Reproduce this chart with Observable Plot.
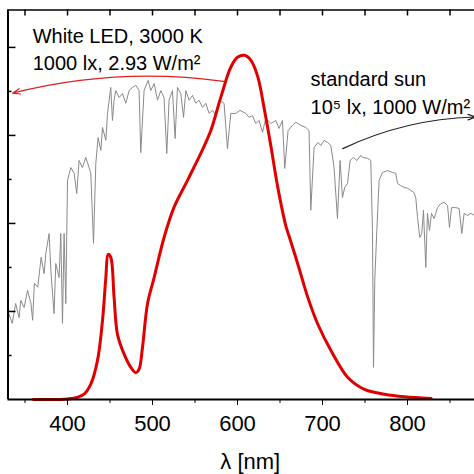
<!DOCTYPE html>
<html><head><meta charset="utf-8">
<script src="https://cdn.jsdelivr.net/npm/d3@7"></script>
<script src="https://cdn.jsdelivr.net/npm/@observablehq/plot@0.6"></script>
<style>html,body{margin:0;padding:0;background:#fff;overflow:hidden}</style>
</head><body><div id="chart"></div>
<script>
// standard sun spectrum (arbitrary units, one unit per minor y tick)
const sunLambda = [331,335,339,343,345,349,353,357,359,361,365,369,372.5,374.5,378.4,380.4,384.2,386.2,390.1,392.1,394.1,396,398,
  400,403.9,407.8,410.9,413.6,417.6,421.5,425.4,427.4,430.6,433.3,436,439.2,441.2,445.1,447.1,450.9,452.9,454.8,456.8,460.7,464.7,468.6,472.5,476.5,480.4,484.2,486.2,490.1,494.8,498,
  501.9,505.9,509.8,513.6,516.8,519.5,523.5,526.6,529.4,533.3,536.5,539.2,543.1,547.1,550.9,554.8,558.8,562.7,566.6,570.6,574.5,578.4,584.2,588.2,592.1,598,602.9,609.8,613.6,617.6,621.5,625.4,629.4,633.3,639.2,645.1,648.9,652.9,655.6,659.5,664.7,668.6,674.5,680.4,684.2,686.2,690.1,694.8,698,
  701.9,705.9,709.8,713.6,717.6,720.7,723.5,726.2,729.4,732.5,736.5,740.4,745.1,747.1,752.9,756.8,758.8,760,761.5,763.9,766.6,770.6,776.5,782.4,786.2,788.2,792.1,796,
  800,803.9,807.8,809.8,811.8,814.5,816.8,818.8,821.5,823.5,825.9,828.2,831.3,835.3,839.2,843.1,847.1,849.4,851.8,856.8,860.7,863.9,866.6,870.6,874.5,879.2,886,893,900];
const sunValue = [1.95,1.73,2.18,1.86,2.25,2.09,2.48,2.18,1.80,2.64,2.55,3.23,2.86,3.32,3.77,2.93,1.95,3.09,2.77,3.77,1.73,3.77,2.18,
  4.98,5.27,5.14,4.68,5.43,5.27,5.50,5.27,5.14,3.55,5.36,5.95,5.66,6.18,5.89,6.50,7.09,6.34,6.80,7.02,6.86,6.95,6.73,7.02,7.09,7.14,7.02,5.61,7.02,7.25,7.02,
  7.18,6.80,7.02,6.86,5.59,6.80,7.02,5.93,7.09,6.95,6.41,7.02,6.80,6.91,6.73,6.80,6.64,6.73,6.50,6.57,6.45,6.80,6.73,5.70,6.50,6.50,6.57,6.50,6.41,6.45,6.27,6.34,6.07,6.39,6.27,6.34,6.16,6.34,5.25,6.11,6.23,6.30,6.23,6.18,6.11,4.30,5.73,5.84,5.77,
  5.89,5.84,5.77,5.27,4.11,5.43,4.59,4.82,4.91,5.43,5.50,5.43,5.55,5.50,5.48,5.43,3.84,0.73,2.70,3.84,4.98,5.16,5.20,5.16,5.14,4.91,4.86,4.82,
  4.80,4.75,4.70,4.57,4.14,3.68,3.77,4.30,3.00,4.23,3.84,4.23,4.11,4.36,4.45,4.48,4.41,3.91,4.36,4.36,4.34,3.77,4.23,4.18,4.23,4.18,4.20,4.05,4.15];

// white LED 3000 K spectrum (same arbitrary units)
const ledLambda = [360,390,400,411.8,419.5,427.4,435.3,441.2,445.1,447.8,450.9,454.8,458.8,466.6,474.5,480.4,484.2,488.2,494.1,501.9,513.6,525.4,541.2,556.8,568.6,580.4,592.1,600.4,608.2,616,623.9,631.8,639.5,647.4,657.2,661.2,670.9,682.7,694.5,710.1,729.8,749.4,772.9,796.5,827.8];
const ledValue  = [0,0,0.01,0.05,0.12,0.35,0.89,1.80,2.77,3.30,3.23,2.32,1.48,1.03,0.73,0.61,0.69,1.18,2.17,2.77,3.68,4.37,4.98,5.59,6.11,6.87,7.55,7.78,7.82,7.70,7.33,6.57,5.73,4.82,3.92,3.68,3.08,2.32,1.71,1.11,0.50,0.23,0.12,0.06,0.02];

const majorXTicks = [400,500,600,700,800,900];
const minorXTicks = [350,450,550,650,750,850];
const topXTicks = [350,400,450,500,550,600,650,700,750,800,850,900];
const majorYTicks = [2,4,6,8];
const minorYTicks = [1,3,5,7];
const xDomain = [330, 900];
const yDomain = [0, 8.85];
const xLabel = "λ [nm]";
const ledText = "White LED, 3000 K\n1000 lx, 2.93 W/m²";
const sunText = "standard sun\n10⁵ lx, 1000 W/m²";
const ledTextAt = [359, 8.54];
const sunTextAt = [686, 7.57];
const ledArrow = {x1: 583.5, y1: 7.23, x2: 335.3, y2: 6.96};
const sunArrow = {x1: 723.9, y1: 5.70, x2: 880, y2: 6.42};

const sun = sunLambda.map((l, i) => ({l, v: sunValue[i]}));
const led = ledLambda.map((l, i) => ({l, v: ledValue[i]}));
const font = "'Liberation Sans', Arial, sans-serif";

const W = 474, H = 474, mT = 9.5, mL = 7.5, mB = 75, mR = -18;
const frameW = W - mL - mR, frameH = H - mT - mB;

const chart = Plot.plot({
  width: W, height: H,
  marginTop: mT, marginLeft: mL, marginBottom: mB, marginRight: mR,
  style: {fontFamily: font, background: "white", color: "black", overflow: "hidden"},
  x: {domain: xDomain},
  y: {domain: yDomain, axis: null},
  marks: [
    Plot.line(sun, {x: "l", y: "v", stroke: "#8a8a8a", strokeWidth: 1}),
    Plot.line(led, {x: "l", y: "v", stroke: "#e00000", strokeWidth: 3, curve: "catmull-rom"}),
    Plot.arrow([ledArrow], {x1: "x1", y1: "y1", x2: "x2", y2: "y2", bend: -11, stroke: "#e02020", strokeWidth: 1.2, headLength: 10, headAngle: 40}),
    Plot.arrow([sunArrow], {x1: "x1", y1: "y1", x2: "x2", y2: "y2", bend: 12, stroke: "#222", strokeWidth: 1.2, headLength: 10, headAngle: 40}),
    Plot.text([ledText], {x: () => ledTextAt[0], y: () => ledTextAt[1], text: d => d, textAnchor: "start", lineAnchor: "top", lineHeight: 1.37, fontSize: 20, fill: "black"}),
    Plot.text([sunText], {x: () => sunTextAt[0], y: () => sunTextAt[1], text: d => d, textAnchor: "start", lineAnchor: "top", lineHeight: 1.4, fontSize: 20, fill: "black"}),
    Plot.axisX({ticks: majorXTicks, tickSize: 6, tickPadding: 10, fontSize: 22, label: null, tickFormat: d => String(d)}),
    Plot.axisX({ticks: minorXTicks, tickSize: 4, tickFormat: () => "", label: null}),
    // inward ticks on the top edge
    Plot.tickX(topXTicks, {x: d => d, stroke: "black", strokeWidth: 1.5, insetBottom: frameH - 6}),
    // inward ticks on the left edge
    Plot.tickY(majorYTicks, {y: d => d, stroke: "black", strokeWidth: 1.5, insetRight: frameW - 8}),
    Plot.tickY(minorYTicks, {y: d => d, stroke: "black", strokeWidth: 1.5, insetRight: frameW - 4}),
    Plot.ruleY([yDomain[0]], {stroke: "black", strokeWidth: 2}),
    Plot.ruleY([yDomain[1]], {stroke: "black", strokeWidth: 1.5}),
    Plot.ruleX([xDomain[0]], {stroke: "black", strokeWidth: 2}),
    Plot.text([xLabel], {frameAnchor: "bottom", text: d => d, dy: 54, lineAnchor: "top", fontSize: 22, fill: "black"})
  ]
});
document.getElementById("chart").appendChild(chart);
</script></body></html>
